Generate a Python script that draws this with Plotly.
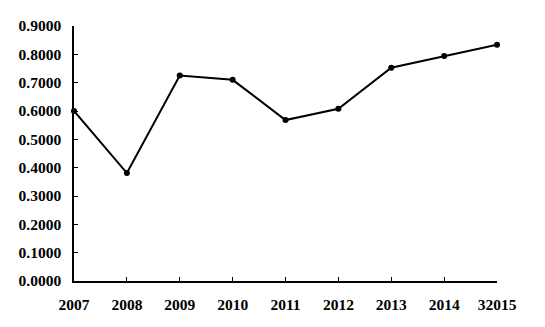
import plotly.graph_objects as go

years = ["2007", "2008", "2009", "2010", "2011", "2012", "2013", "2014", "32015"]
values = [0.600, 0.381, 0.725, 0.710, 0.568, 0.608, 0.753, 0.794, 0.834]
y_ticks = [0.0, 0.1, 0.2, 0.3, 0.4, 0.5, 0.6, 0.7, 0.8, 0.9]
y_tick_labels = [f"{v:.4f}" for v in y_ticks]

tick_font = dict(family="Liberation Serif", size=15.5, color="black", weight="bold")

fig = go.Figure(go.Scatter(
    x=years, y=values, mode="lines+markers",
    line=dict(color="black", width=2),
    marker=dict(color="black", size=6),
    cliponaxis=False,
))

fig.update_layout(
    width=545, height=327,
    margin=dict(l=66, r=56, t=18, b=54, autoexpand=False),
    paper_bgcolor="white", plot_bgcolor="white",
    showlegend=False,
    font=dict(family="Liberation Serif", size=15.5, color="black"),
)
fig.update_xaxes(
    type="category", range=[0, len(years) - 1],
    showline=True, linecolor="black", linewidth=1.5,
    ticks="inside", ticklen=4, tickcolor="black", tickwidth=1,
    showgrid=False, zeroline=False,
    tickfont=tick_font,
    ticklabelstandoff=9,
)
fig.update_yaxes(
    range=[0, 0.9], tickvals=y_ticks, ticktext=y_tick_labels,
    showline=True, linecolor="black", linewidth=1.5,
    ticks="inside", ticklen=4, tickcolor="black", tickwidth=1,
    showgrid=False, zeroline=False,
    tickfont=tick_font,
    ticklabelstandoff=8,
)

fig.write_html("out.html")
